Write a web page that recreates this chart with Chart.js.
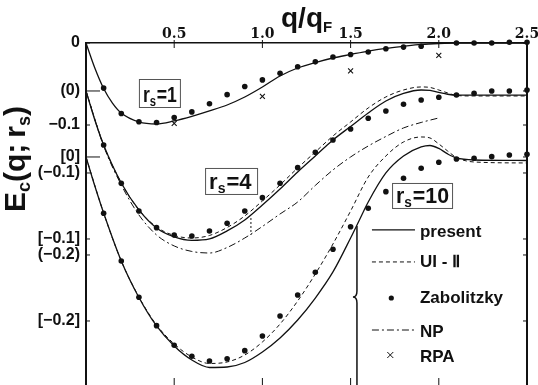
<!DOCTYPE html>
<html><head><meta charset="utf-8">
<script src="https://cdn.jsdelivr.net/npm/chart.js@4/dist/chart.umd.min.js"></script>
<style>html,body{margin:0;padding:0;background:#fff;overflow:hidden}canvas{display:block}</style>
</head><body>
<canvas id="c" width="538" height="385"></canvas>
<script>
// ---- axis ticks ----
const xTickValues = [0.5, 1.0, 1.5, 2.0, 2.5];
const xTickLabels = ['0.5', '1.0', '1.5', '2.0', '2.5'];
// three stacked vertical scales: plain = r_s=1, ( ) = r_s=4, [ ] = r_s=10
const yTickLabels = ['0', '(0)', '\u22120.1', '[0]', '(\u22120.1)', '[\u22120.1]', '(\u22120.2)', '[\u22120.2]'];
const yTickSeries = [0, 1, 0, 2, 1, 2, 1, 2];
const yTickNative = [0, 0, -0.1, 0, -0.1, -0.1, -0.2, -0.2];
const seriesNames = ['1', '4', '10'];
const seriesOffsets = [0, -0.0585, -0.139];

// ---- present ----
const qPresent1 = [0,0.05,0.1,0.15,0.2,0.3,0.4,0.5,0.6,0.7,0.8,0.9,1.0,1.1,1.2,1.3,1.4,1.5,1.6,1.7,1.8,1.9,2.0,2.1,2.5];
const present1 = [0,-0.0305,-0.0555,-0.0732,-0.0854,-0.0963,-0.0988,-0.0951,-0.0896,-0.0829,-0.0756,-0.0659,-0.0537,-0.0402,-0.0305,-0.0238,-0.0183,-0.014,-0.0098,-0.0065,-0.004,-0.0018,-0.0006,0,0];
const qPresent4 = [0,0.05,0.1,0.2,0.3,0.4,0.5,0.6,0.7,0.8,0.9,1.0,1.1,1.2,1.3,1.4,1.5,1.6,1.7,1.8,1.9,1.95,2.0,2.05,2.1,2.5];
const present4 = [0,-0.0354,-0.0659,-0.1122,-0.1451,-0.1671,-0.178,-0.1823,-0.1805,-0.1707,-0.1573,-0.139,-0.1195,-0.0988,-0.0793,-0.0598,-0.0433,-0.0268,-0.0122,-0.003,0.0012,0.0006,-0.0018,-0.004,-0.0051,-0.0051];
const qPresent10 = [0,0.05,0.1,0.2,0.3,0.4,0.5,0.6,0.7,0.8,0.9,1.0,1.1,1.2,1.3,1.4,1.5,1.55,1.6,1.7,1.8,1.9,1.95,2.0,2.05,2.1,2.2,2.5];
const present10 = [0,-0.0354,-0.0683,-0.1268,-0.1713,-0.2061,-0.2305,-0.2476,-0.2567,-0.2561,-0.2506,-0.2378,-0.2207,-0.1988,-0.172,-0.1402,-0.0988,-0.0768,-0.0549,-0.0195,0.0012,0.0122,0.014,0.0104,0.0037,-0.0012,-0.0037,-0.0043];

// ---- UI-II ----
const qUI4 = [0,0.1,0.2,0.3,0.4,0.5,0.6,0.7,0.8,0.9,1.0,1.1,1.2,1.3,1.4,1.5,1.6,1.7,1.8,1.9,1.95,2.0,2.05,2.1,2.2,2.5];
const ui4 = [0,-0.0659,-0.1122,-0.1451,-0.1659,-0.1762,-0.1793,-0.1762,-0.1665,-0.1524,-0.1341,-0.1146,-0.0939,-0.0744,-0.0549,-0.0378,-0.0207,-0.0073,0.0012,0.0049,0.0043,0.0012,-0.0024,-0.0055,-0.0061,-0.0061];
const qUI10 = [0,0.1,0.2,0.3,0.4,0.5,0.6,0.7,0.8,0.9,1.0,1.1,1.2,1.3,1.4,1.5,1.6,1.7,1.8,1.9,1.95,2.0,2.05,2.1,2.2,2.5];
const ui10 = [0,-0.0683,-0.1268,-0.1707,-0.2049,-0.228,-0.2439,-0.2518,-0.25,-0.2415,-0.2256,-0.2037,-0.1756,-0.1427,-0.1061,-0.0659,-0.0244,0.0012,0.0183,0.0244,0.0232,0.0159,0.0073,-0.0006,-0.0061,-0.0073];

// ---- NP ----
const qNP4 = [0,0.1,0.2,0.3,0.4,0.5,0.6,0.7,0.8,0.9,1.0,1.1,1.2,1.3,1.4,1.5,1.6,1.7,1.8,1.9,2.0];
const np4 = [0,-0.0671,-0.1146,-0.1512,-0.1756,-0.189,-0.1957,-0.1976,-0.1909,-0.1793,-0.1652,-0.15,-0.1354,-0.1152,-0.0963,-0.0805,-0.0671,-0.0555,-0.0451,-0.0384,-0.0329];
// short vertical connector drawn on the original near q = 0.93
const qNPjog = [0.935, 0.935];
const npJog = [-0.1549, -0.1756];

// ---- Zabolitzky ----
const qZab1 = [0.1,0.2,0.3,0.4,0.5,0.6,0.7,0.8,0.9,1.0,1.1,1.2,1.3,1.4,1.5,1.6,1.7,1.8,1.9,2.1,2.2,2.3,2.4,2.5];
const zab1 = [-0.055,-0.086,-0.096,-0.097,-0.091,-0.084,-0.074,-0.063,-0.053,-0.045,-0.037,-0.029,-0.023,-0.017,-0.014,-0.011,-0.007,-0.005,-0.004,0,0,0,0.001,0.001];
const qZab = [0.1,0.2,0.3,0.4,0.5,0.6,0.7,0.8,0.9,1.0,1.1,1.2,1.3,1.4,1.5,1.6,1.7,1.8,1.9,2.0,2.1,2.2,2.3,2.4,2.5];
const zab4 = [-0.0659,-0.1126,-0.1463,-0.1667,-0.1756,-0.1768,-0.1707,-0.1613,-0.1463,-0.1301,-0.1126,-0.0935,-0.0748,-0.0598,-0.0463,-0.0333,-0.0244,-0.0162,-0.011,-0.0077,-0.0049,-0.0028,0,0,0.0012];
const zab10 = [-0.0687,-0.1268,-0.1711,-0.2057,-0.2296,-0.243,-0.2488,-0.246,-0.2362,-0.2183,-0.1939,-0.1683,-0.1406,-0.1126,-0.085,-0.0626,-0.0423,-0.026,-0.0138,-0.0065,-0.0024,-0.0016,0.0004,0.0024,0.0033];

// ---- RPA ----
const qRPA1 = [0.5, 1.0, 1.5, 2.0];
const rpa1 = [-0.098, -0.065, -0.034, -0.015];

const legendLabels = ['present', 'UI - \u2161', 'Zabolitzky', 'NP', 'RPA'];

// ---------------------------------------------------------------
const yTickDisplay = yTickNative.map((v, i) => v + seriesOffsets[yTickSeries[i]]);
const pts = (qs, vs, s) => qs.map((q, i) => ({ x: q, y: vs[i] + seriesOffsets[s] }));

const INK = '#111';
const solid = { showLine: true, pointRadius: 0, borderColor: INK, borderWidth: 1.3, cubicInterpolationMode: 'monotone', clip: false };
const dashed = { showLine: true, pointRadius: 0, borderColor: INK, borderWidth: 1, borderDash: [4, 3], cubicInterpolationMode: 'monotone', clip: false };
const dashdot = { showLine: true, pointRadius: 0, borderColor: INK, borderWidth: 1, borderDash: [7, 3, 2, 3], cubicInterpolationMode: 'monotone', clip: false };
const dotted = { showLine: true, pointRadius: 0, borderColor: INK, borderWidth: 1, borderDash: [2, 2], clip: false };
const dots = { showLine: false, pointRadius: 2.8, pointBackgroundColor: INK, pointBorderWidth: 0, borderColor: INK, clip: false };
const crosses = { showLine: false, pointStyle: 'crossRot', pointRadius: 3.5, pointBorderWidth: 1.1, pointBorderColor: INK, borderColor: INK, clip: false };

const datasets = [
  Object.assign({ label: 'present r_s=1', data: pts(qPresent1, present1, 0) }, solid),
  Object.assign({ label: 'present r_s=4', data: pts(qPresent4, present4, 1) }, solid),
  Object.assign({ label: 'present r_s=10', data: pts(qPresent10, present10, 2) }, solid),
  Object.assign({ label: 'UI-II r_s=4', data: pts(qUI4, ui4, 1) }, dashed),
  Object.assign({ label: 'UI-II r_s=10', data: pts(qUI10, ui10, 2) }, dashed),
  Object.assign({ label: 'NP r_s=4', data: pts(qNP4, np4, 1) }, dashdot),
  Object.assign({ label: 'NP r_s=4 connector', data: pts(qNPjog, npJog, 1) }, dotted),
  Object.assign({ label: 'Zabolitzky r_s=1', data: pts(qZab1, zab1, 0) }, dots),
  Object.assign({ label: 'Zabolitzky r_s=4', data: pts(qZab, zab4, 1) }, dots),
  Object.assign({ label: 'Zabolitzky r_s=10', data: pts(qZab, zab10, 2) }, dots),
  Object.assign({ label: 'RPA r_s=1', data: pts(qRPA1, rpa1, 0) }, crosses)
];

const SANS = '"Liberation Sans", Arial, sans-serif';

function rich(ctx, parts, x, y, measureOnly) {
  let cx = x;
  parts.forEach(p => {
    ctx.font = 'bold ' + p.size + 'px ' + SANS;
    if (!measureOnly) ctx.fillText(p.t, cx, y + (p.dy || 0));
    cx += ctx.measureText(p.t).width + (p.gap || 0);
  });
  return cx - x;
}

const deco = {
  id: 'deco',
  afterDraw(chart) {
    const ctx = chart.ctx, xs = chart.scales.x, ys = chart.scales.y, a = chart.chartArea;
    const P = (q, v) => [xs.getPixelForValue(q), ys.getPixelForValue(v)];
    const seg = (x1, y1, x2, y2) => { ctx.beginPath(); ctx.moveTo(x1, y1); ctx.lineTo(x2, y2); ctx.stroke(); };
    ctx.save();
    ctx.strokeStyle = INK; ctx.fillStyle = INK; ctx.setLineDash([]);
    // right frame
    ctx.lineWidth = 2;
    seg(a.right, a.top, a.right, a.bottom);
    // x ticks (inward), top and bottom
    ctx.lineWidth = 1;
    xTickValues.forEach(v => {
      if (v >= 2.5) return;
      const px = xs.getPixelForValue(v);
      seg(px, a.top - 3, px, a.top + 5);
      seg(px, a.bottom - 7, px, a.bottom);
    });
    // y ticks (inward)
    yTickDisplay.forEach((v, i) => {
      const py = ys.getPixelForValue(v);
      const len = (yTickNative[i] === 0 && yTickSeries[i] > 0) ? 14 : 4;
      seg(a.left, py, a.left + len, py);
      seg(a.right - 4, py, a.right, py);
    });

    // titles
    ctx.textAlign = 'left'; ctx.textBaseline = 'alphabetic';
    rich(ctx, [{ t: 'q/q', size: 28 }, { t: 'F', size: 15, dy: 5 }], 281, 27);
    ctx.save();
    ctx.translate(25, 212); ctx.rotate(-Math.PI / 2);
    rich(ctx, [{ t: 'E', size: 30 }, { t: 'c', size: 18, dy: 5 }, { t: '(q;\u2009r', size: 30 }, { t: 's', size: 18, dy: 5 }, { t: ')', size: 30 }], 0, 0);
    ctx.restore();

    // boxed r_s labels
    const boxes = [[0.300, -0.0439, 41, 28], [0.675, -0.1524, 52, 26], [1.735, -0.1707, 60, 25]];
    boxes.forEach((b, i) => {
      const [bx, by] = P(b[0], b[1]);
      const bw = b[2], bh = b[3];
      const parts = [{ t: 'r', size: 22 }, { t: 's', size: 14, dy: 4, gap: 1 }, { t: '=' + seriesNames[i], size: 22 }];
      const w = rich(ctx, parts, 0, 0, true);
      const k = Math.min(1, (bw - 7) / w);
      ctx.save();
      ctx.translate(bx + 4, by + bh - 5);
      ctx.scale(k, 1);
      rich(ctx, parts, 0, 0);
      ctx.restore();
      ctx.lineWidth = 1; ctx.strokeStyle = '#555';
      ctx.strokeRect(bx + 0.5, by + 0.5, bw, bh);
      ctx.strokeStyle = INK;
    });

    // legend
    const sx1 = xs.getPixelForValue(1.621), sx2 = xs.getPixelForValue(1.865), tx = xs.getPixelForValue(1.893);
    const rowMid = [-0.228, -0.267, -0.311, -0.35, -0.3805].map(v => ys.getPixelForValue(v));
    const rowBase = [-0.236, -0.2732, -0.3171, -0.3585, -0.389].map(v => ys.getPixelForValue(v));
    ctx.lineWidth = 1.2;
    seg(sx1, rowMid[0], sx2, rowMid[0]);
    ctx.lineWidth = 1; ctx.setLineDash([4, 3]);
    seg(sx1, rowMid[1], sx2, rowMid[1]);
    ctx.setLineDash([7, 3, 2, 3]);
    seg(sx1, rowMid[3], sx2, rowMid[3]);
    ctx.setLineDash([]);
    const cx = xs.getPixelForValue(1.725);
    ctx.beginPath(); ctx.arc(cx + 1, rowMid[2], 2.6, 0, Math.PI * 2); ctx.fill();
    const d = 3;
    seg(cx - d, rowMid[4] - d, cx + d, rowMid[4] + d);
    seg(cx - d, rowMid[4] + d, cx + d, rowMid[4] - d);
    ctx.font = 'bold 17px ' + SANS;
    legendLabels.forEach((t, i) => ctx.fillText(t, tx, rowBase[i]));
    // brace
    const bx = xs.getPixelForValue(1.536);
    const [, bt] = P(0, -0.2232), [, bm] = P(0, -0.3098);
    ctx.lineWidth = 1.5;
    ctx.beginPath();
    ctx.moveTo(bx, bt); ctx.lineTo(bx, bm - 6);
    ctx.quadraticCurveTo(bx, bm, bx - 4, bm);
    ctx.quadraticCurveTo(bx, bm, bx, bm + 6);
    ctx.lineTo(bx, a.bottom);
    ctx.stroke();
    ctx.restore();
  }
};

new Chart(document.getElementById('c'), {
  type: 'scatter',
  data: { datasets },
  options: {
    responsive: false, animation: false, events: [],
    layout: { autoPadding: false, padding: { left: 0, top: 0, right: 11, bottom: 0 } },
    plugins: { legend: { display: false }, tooltip: { enabled: false } },
    scales: {
      x: {
        type: 'linear', position: 'top', min: 0, max: 2.5,
        afterBuildTicks: s => { s.ticks = xTickValues.map(v => ({ value: v })); },
        afterFit: s => { s.height = 43; s.paddingLeft = 0; s.paddingRight = 0; },
        grid: { display: false, drawTicks: false },
        border: { display: true, color: INK, width: 1.5 },
        ticks: { autoSkip: false, maxRotation: 0, padding: 0, color: INK,
          font: { family: '"DejaVu Serif", serif', size: 14, weight: 'bold' },
          callback: (v, i) => xTickLabels[i] }
      },
      y: {
        type: 'linear', position: 'left', min: -0.41707, max: 0,
        afterBuildTicks: s => { s.ticks = yTickDisplay.map(v => ({ value: v })); },
        afterFit: s => { s.width = 86; s.paddingTop = 0; s.paddingBottom = 0; },
        grid: { display: false, drawTicks: false },
        border: { display: true, color: INK, width: 2 },
        ticks: { autoSkip: false, padding: 6, color: INK,
          font: { family: SANS, size: 16, weight: 'bold' },
          callback: (v, i) => yTickLabels[i] }
      }
    }
  },
  plugins: [deco]
});
</script>
</body></html>
